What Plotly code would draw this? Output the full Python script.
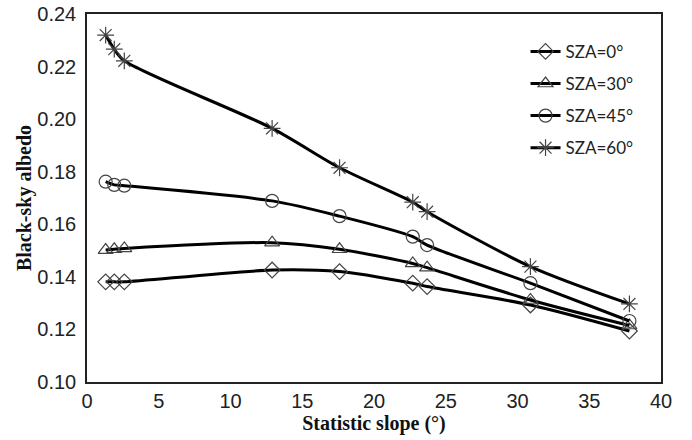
import plotly.graph_objects as go

slope = [1.3, 1.9, 2.6, 12.9, 17.6, 22.7, 23.7, 30.9, 37.8]
sza0 = [0.1381, 0.1381, 0.1381, 0.1426, 0.1420, 0.1376, 0.1363, 0.1293, 0.1194]
sza30 = [0.1502, 0.1505, 0.1508, 0.1530, 0.1505, 0.1451, 0.1435, 0.1312, 0.1215]
sza45 = [0.1762, 0.1750, 0.1747, 0.1689, 0.1631, 0.1553, 0.1521, 0.1376, 0.1232]
sza60 = [0.2320, 0.2266, 0.2222, 0.1965, 0.1815, 0.1684, 0.1648, 0.1439, 0.1297]

names = ["SZA=0°", "SZA=30°", "SZA=45°", "SZA=60°"]
series = [sza0, sza30, sza45, sza60]
symbols = ["diamond-open", "triangle-up-open", "circle-open", "asterisk-open"]
sizes = [12, 13, 13, 14]

fig = go.Figure()
for i, (n, s, sym, sz) in enumerate(zip(names, series, symbols, sizes)):
    fig.add_trace(go.Scatter(
        x=slope, y=s, name=n, mode="lines+markers",
        line=dict(color="black", width=3, shape="spline", smoothing=0.8),
        marker=dict(symbol=sym, size=sz, color="#444", line=dict(color="#444", width=1.2)),
        legendgroup=str(i),
    ))

tickfont = dict(family="Liberation Sans, Arial, sans-serif", size=20, color="#222")
titlefont = dict(family="Liberation Serif, Times New Roman, serif", size=20, color="#111", weight="bold")

fig.update_layout(
    width=692, height=440,
    margin=dict(l=87, r=31, t=14, b=58, autoexpand=False),
    paper_bgcolor="white", plot_bgcolor="white",
    showlegend=True,
    legend=dict(x=0.764, y=0.946, xanchor="left", yanchor="top",
                bgcolor="rgba(0,0,0,0)", tracegroupgap=7,
                font=dict(family="Lato, Liberation Sans, sans-serif", size=17, color="#222"),
                itemwidth=30),
    xaxis=dict(range=[0, 40], dtick=5, showgrid=False, zeroline=False, automargin=False,
               showline=True, mirror=True, linecolor="#222", linewidth=1.5,
               ticks="", ticklabelstandoff=0, tickfont=tickfont,
               title=dict(text="Statistic slope (°)", standoff=0, font=titlefont)),
    yaxis=dict(range=[0.10, 0.24], dtick=0.02, tickformat=".2f", showgrid=False, zeroline=False,
               automargin=False,
               showline=True, mirror=True, linecolor="#222", linewidth=1.5,
               ticks="", ticklabelstandoff=5, tickfont=tickfont,
               title=dict(text="Black-sky albedo", standoff=0, font=titlefont)),
)

fig.write_html("out.html", config={"displayModeBar": False},
               post_script="document.body.style.margin='0';")
